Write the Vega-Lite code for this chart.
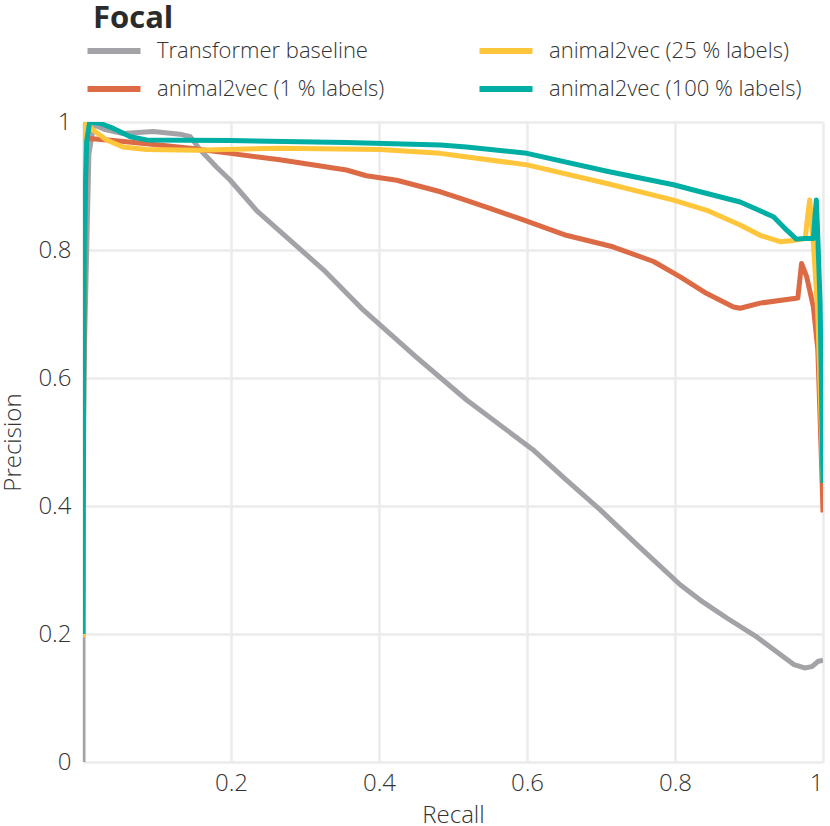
{
  "$schema": "https://vega.github.io/schema/vega-lite/v6.json",
  "width": 740,
  "height": 640,
  "autosize": {"type": "none"},
  "padding": {"left": 83, "top": 122, "right": 7, "bottom": 64},
  "config": {
    "font": "Open Sans",
    "view": {"stroke": null},
    "axis": {
      "domain": false,
      "ticks": false,
      "gridColor": "#ebebeb",
      "gridWidth": 2.5,
      "labelFontSize": 24,
      "labelFontWeight": 300,
      "labelColor": "#333333",
      "titleFontSize": 24,
      "titleFontWeight": 300,
      "titleColor": "#333333"
    }
  },
  "title": {
    "text": "Focal",
    "anchor": "start",
    "frame": "group",
    "fontSize": 31,
    "fontWeight": "bold",
    "color": "#2b2b2b",
    "dx": 10,
    "offset": 4
  },
  "data": {
    "values": [
      {"model": "Transformer baseline", "recall": 0.0, "precision": 0.0},
      {"model": "Transformer baseline", "recall": 0.0, "precision": 0.19},
      {"model": "Transformer baseline", "recall": 0.001, "precision": 0.6},
      {"model": "Transformer baseline", "recall": 0.008, "precision": 0.95},
      {"model": "Transformer baseline", "recall": 0.015, "precision": 1.0},
      {"model": "Transformer baseline", "recall": 0.02, "precision": 0.993},
      {"model": "Transformer baseline", "recall": 0.03, "precision": 0.988},
      {"model": "Transformer baseline", "recall": 0.054, "precision": 0.982},
      {"model": "Transformer baseline", "recall": 0.095, "precision": 0.985},
      {"model": "Transformer baseline", "recall": 0.131, "precision": 0.981},
      {"model": "Transformer baseline", "recall": 0.145, "precision": 0.977},
      {"model": "Transformer baseline", "recall": 0.158, "precision": 0.957},
      {"model": "Transformer baseline", "recall": 0.18, "precision": 0.93},
      {"model": "Transformer baseline", "recall": 0.199, "precision": 0.909},
      {"model": "Transformer baseline", "recall": 0.235, "precision": 0.861},
      {"model": "Transformer baseline", "recall": 0.28, "precision": 0.815},
      {"model": "Transformer baseline", "recall": 0.325, "precision": 0.769},
      {"model": "Transformer baseline", "recall": 0.379, "precision": 0.706},
      {"model": "Transformer baseline", "recall": 0.45, "precision": 0.633},
      {"model": "Transformer baseline", "recall": 0.518, "precision": 0.566},
      {"model": "Transformer baseline", "recall": 0.608, "precision": 0.488},
      {"model": "Transformer baseline", "recall": 0.65, "precision": 0.444},
      {"model": "Transformer baseline", "recall": 0.699, "precision": 0.394},
      {"model": "Transformer baseline", "recall": 0.75, "precision": 0.338},
      {"model": "Transformer baseline", "recall": 0.807, "precision": 0.277},
      {"model": "Transformer baseline", "recall": 0.834, "precision": 0.253},
      {"model": "Transformer baseline", "recall": 0.87, "precision": 0.225},
      {"model": "Transformer baseline", "recall": 0.911, "precision": 0.195},
      {"model": "Transformer baseline", "recall": 0.94, "precision": 0.17},
      {"model": "Transformer baseline", "recall": 0.961, "precision": 0.152},
      {"model": "Transformer baseline", "recall": 0.975, "precision": 0.147},
      {"model": "Transformer baseline", "recall": 0.985, "precision": 0.149},
      {"model": "Transformer baseline", "recall": 0.993, "precision": 0.157},
      {"model": "Transformer baseline", "recall": 1.0, "precision": 0.159},

      {"model": "animal2vec (1 % labels)", "recall": 0.0, "precision": 0.45},
      {"model": "animal2vec (1 % labels)", "recall": 0.004, "precision": 0.975},
      {"model": "animal2vec (1 % labels)", "recall": 0.012, "precision": 0.974},
      {"model": "animal2vec (1 % labels)", "recall": 0.041, "precision": 0.971},
      {"model": "animal2vec (1 % labels)", "recall": 0.086, "precision": 0.966},
      {"model": "animal2vec (1 % labels)", "recall": 0.145, "precision": 0.959},
      {"model": "animal2vec (1 % labels)", "recall": 0.199, "precision": 0.951},
      {"model": "animal2vec (1 % labels)", "recall": 0.266, "precision": 0.941},
      {"model": "animal2vec (1 % labels)", "recall": 0.356, "precision": 0.925},
      {"model": "animal2vec (1 % labels)", "recall": 0.383, "precision": 0.916},
      {"model": "animal2vec (1 % labels)", "recall": 0.424, "precision": 0.909},
      {"model": "animal2vec (1 % labels)", "recall": 0.483, "precision": 0.891},
      {"model": "animal2vec (1 % labels)", "recall": 0.509, "precision": 0.881},
      {"model": "animal2vec (1 % labels)", "recall": 0.55, "precision": 0.865},
      {"model": "animal2vec (1 % labels)", "recall": 0.595, "precision": 0.847},
      {"model": "animal2vec (1 % labels)", "recall": 0.653, "precision": 0.823},
      {"model": "animal2vec (1 % labels)", "recall": 0.716, "precision": 0.805},
      {"model": "animal2vec (1 % labels)", "recall": 0.771, "precision": 0.782},
      {"model": "animal2vec (1 % labels)", "recall": 0.807, "precision": 0.758},
      {"model": "animal2vec (1 % labels)", "recall": 0.843, "precision": 0.732},
      {"model": "animal2vec (1 % labels)", "recall": 0.879, "precision": 0.711},
      {"model": "animal2vec (1 % labels)", "recall": 0.888, "precision": 0.709},
      {"model": "animal2vec (1 % labels)", "recall": 0.915, "precision": 0.717},
      {"model": "animal2vec (1 % labels)", "recall": 0.966, "precision": 0.725},
      {"model": "animal2vec (1 % labels)", "recall": 0.971, "precision": 0.779},
      {"model": "animal2vec (1 % labels)", "recall": 0.978, "precision": 0.758},
      {"model": "animal2vec (1 % labels)", "recall": 0.987, "precision": 0.711},
      {"model": "animal2vec (1 % labels)", "recall": 0.993, "precision": 0.644},
      {"model": "animal2vec (1 % labels)", "recall": 0.996, "precision": 0.54},
      {"model": "animal2vec (1 % labels)", "recall": 0.999, "precision": 0.43},
      {"model": "animal2vec (1 % labels)", "recall": 1.0, "precision": 0.39},

      {"model": "animal2vec (25 % labels)", "recall": 0.0, "precision": 0.195},
      {"model": "animal2vec (25 % labels)", "recall": 0.001, "precision": 0.7},
      {"model": "animal2vec (25 % labels)", "recall": 0.002, "precision": 0.95},
      {"model": "animal2vec (25 % labels)", "recall": 0.003, "precision": 1.0},
      {"model": "animal2vec (25 % labels)", "recall": 0.008, "precision": 0.995},
      {"model": "animal2vec (25 % labels)", "recall": 0.014, "precision": 0.987},
      {"model": "animal2vec (25 % labels)", "recall": 0.032, "precision": 0.972},
      {"model": "animal2vec (25 % labels)", "recall": 0.054, "precision": 0.961},
      {"model": "animal2vec (25 % labels)", "recall": 0.086, "precision": 0.957},
      {"model": "animal2vec (25 % labels)", "recall": 0.154, "precision": 0.956},
      {"model": "animal2vec (25 % labels)", "recall": 0.266, "precision": 0.959},
      {"model": "animal2vec (25 % labels)", "recall": 0.401, "precision": 0.957},
      {"model": "animal2vec (25 % labels)", "recall": 0.483, "precision": 0.951},
      {"model": "animal2vec (25 % labels)", "recall": 0.509, "precision": 0.947},
      {"model": "animal2vec (25 % labels)", "recall": 0.6, "precision": 0.933},
      {"model": "animal2vec (25 % labels)", "recall": 0.708, "precision": 0.904},
      {"model": "animal2vec (25 % labels)", "recall": 0.798, "precision": 0.878},
      {"model": "animal2vec (25 % labels)", "recall": 0.843, "precision": 0.862},
      {"model": "animal2vec (25 % labels)", "recall": 0.888, "precision": 0.839},
      {"model": "animal2vec (25 % labels)", "recall": 0.915, "precision": 0.823},
      {"model": "animal2vec (25 % labels)", "recall": 0.942, "precision": 0.813},
      {"model": "animal2vec (25 % labels)", "recall": 0.96, "precision": 0.815},
      {"model": "animal2vec (25 % labels)", "recall": 0.976, "precision": 0.818},
      {"model": "animal2vec (25 % labels)", "recall": 0.979, "precision": 0.85},
      {"model": "animal2vec (25 % labels)", "recall": 0.982, "precision": 0.878},
      {"model": "animal2vec (25 % labels)", "recall": 0.987, "precision": 0.81},
      {"model": "animal2vec (25 % labels)", "recall": 0.993, "precision": 0.7},
      {"model": "animal2vec (25 % labels)", "recall": 0.997, "precision": 0.55},
      {"model": "animal2vec (25 % labels)", "recall": 1.0, "precision": 0.44},

      {"model": "animal2vec (100 % labels)", "recall": 0.0, "precision": 0.2},
      {"model": "animal2vec (100 % labels)", "recall": 0.001, "precision": 0.6},
      {"model": "animal2vec (100 % labels)", "recall": 0.002, "precision": 0.85},
      {"model": "animal2vec (100 % labels)", "recall": 0.005, "precision": 0.97},
      {"model": "animal2vec (100 % labels)", "recall": 0.009, "precision": 1.0},
      {"model": "animal2vec (100 % labels)", "recall": 0.023, "precision": 0.998},
      {"model": "animal2vec (100 % labels)", "recall": 0.041, "precision": 0.99},
      {"model": "animal2vec (100 % labels)", "recall": 0.064, "precision": 0.977},
      {"model": "animal2vec (100 % labels)", "recall": 0.086, "precision": 0.972},
      {"model": "animal2vec (100 % labels)", "recall": 0.199, "precision": 0.971},
      {"model": "animal2vec (100 % labels)", "recall": 0.356, "precision": 0.968},
      {"model": "animal2vec (100 % labels)", "recall": 0.483, "precision": 0.964},
      {"model": "animal2vec (100 % labels)", "recall": 0.518, "precision": 0.961},
      {"model": "animal2vec (100 % labels)", "recall": 0.6, "precision": 0.951},
      {"model": "animal2vec (100 % labels)", "recall": 0.708, "precision": 0.923},
      {"model": "animal2vec (100 % labels)", "recall": 0.798, "precision": 0.902},
      {"model": "animal2vec (100 % labels)", "recall": 0.834, "precision": 0.891},
      {"model": "animal2vec (100 % labels)", "recall": 0.888, "precision": 0.875},
      {"model": "animal2vec (100 % labels)", "recall": 0.933, "precision": 0.852},
      {"model": "animal2vec (100 % labels)", "recall": 0.951, "precision": 0.831},
      {"model": "animal2vec (100 % labels)", "recall": 0.964, "precision": 0.817},
      {"model": "animal2vec (100 % labels)", "recall": 0.975, "precision": 0.818},
      {"model": "animal2vec (100 % labels)", "recall": 0.987, "precision": 0.818},
      {"model": "animal2vec (100 % labels)", "recall": 0.989, "precision": 0.85},
      {"model": "animal2vec (100 % labels)", "recall": 0.991, "precision": 0.878},
      {"model": "animal2vec (100 % labels)", "recall": 0.993, "precision": 0.82},
      {"model": "animal2vec (100 % labels)", "recall": 0.996, "precision": 0.72},
      {"model": "animal2vec (100 % labels)", "recall": 1.0, "precision": 0.436}
    ]
  },
  "mark": {"type": "line", "strokeWidth": 5, "strokeJoin": "round", "clip": true},
  "encoding": {
    "x": {
      "field": "recall",
      "type": "quantitative",
      "title": "Recall",
      "scale": {"domain": [0, 1], "nice": false},
      "axis": {"values": [0, 0.2, 0.4, 0.6, 0.8, 1], "format": "~g", "labelExpr": "datum.value == 0 ? '' : datum.label", "labelPadding": 9, "titlePadding": 8}
    },
    "y": {
      "field": "precision",
      "type": "quantitative",
      "title": "Precision",
      "scale": {"domain": [0, 1], "nice": false},
      "axis": {"values": [0, 0.2, 0.4, 0.6, 0.8, 1], "format": "~g", "labelPadding": 12, "titlePadding": 12}
    },
    "color": {
      "field": "model",
      "type": "nominal",
      "scale": {
        "domain": ["Transformer baseline", "animal2vec (1 % labels)", "animal2vec (25 % labels)", "animal2vec (100 % labels)"],
        "range": ["#a3a2a7", "#dc6a45", "#ffc53b", "#00aea3"]
      },
      "legend": {
        "orient": "none",
        "legendX": 19,
        "legendY": -83,
        "title": null,
        "columns": 2,
        "columnPadding": 82,
        "rowPadding": 14,
        "symbolType": "M-3,0H3",
        "symbolSize": 312,
        "symbolStrokeWidth": 6,
        "labelFontSize": 22,
        "labelFontWeight": 300,
        "labelLimit": 0,
        "labelColor": "#333333",
        "labelOffset": 31
      }
    },
    "order": {"value": null}
  }
}
